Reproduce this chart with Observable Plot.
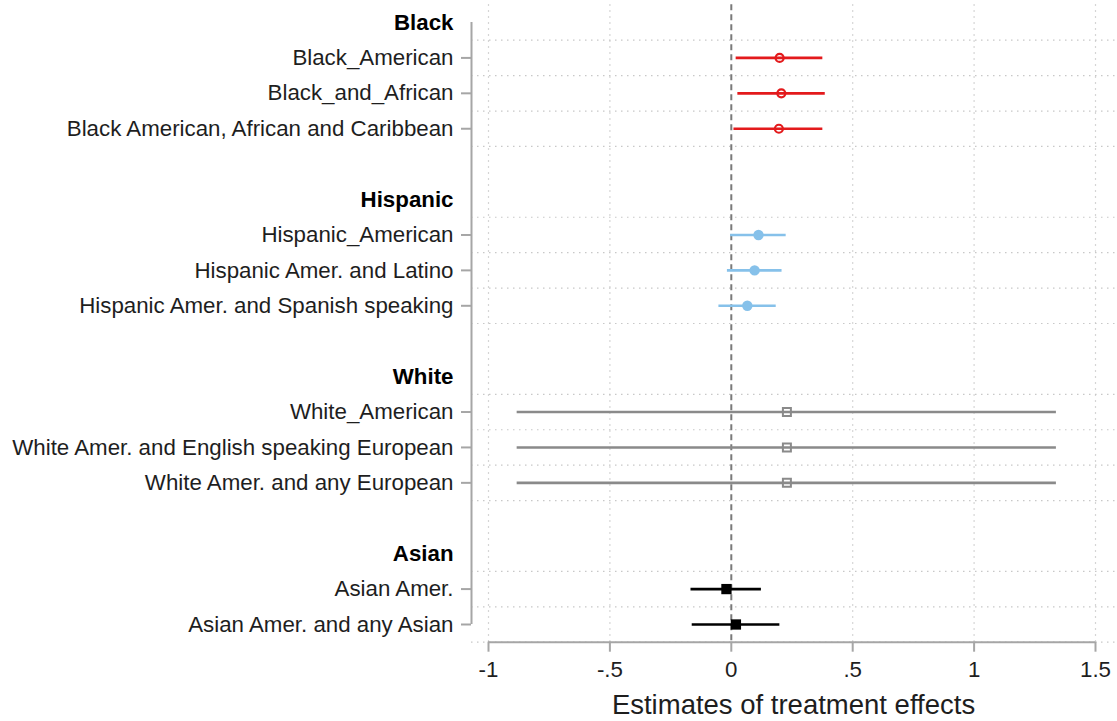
<!DOCTYPE html>
<html>
<head>
<meta charset="utf-8">
<script src="https://cdn.jsdelivr.net/npm/d3@7"></script>
<script src="https://cdn.jsdelivr.net/npm/@observablehq/plot@0.6"></script>
<style>
  html, body { margin: 0; padding: 0; background: #ffffff; }
  #chart svg { display: block; }
</style>
</head>
<body>
<div id="chart"></div>
<script>
// ---- Data ----
const groups = ["Black", "Hispanic", "White", "Asian"];
const labels = [
  "Black_American",
  "Black_and_African",
  "Black American, African and Caribbean",
  "Hispanic_American",
  "Hispanic Amer. and Latino",
  "Hispanic Amer. and Spanish speaking",
  "White_American",
  "White Amer. and English speaking European",
  "White Amer. and any European",
  "Asian Amer.",
  "Asian Amer. and any Asian"
];
const groupOf = ["Black", "Black", "Black", "Hispanic", "Hispanic", "Hispanic", "White", "White", "White", "Asian", "Asian"];
const estimate = [0.199, 0.206, 0.196, 0.112, 0.096, 0.066, 0.229, 0.229, 0.229, -0.020, 0.019];
const lower    = [0.020, 0.027, 0.011, -0.003, -0.016, -0.051, -0.882, -0.882, -0.882, -0.166, -0.161];
const upper    = [0.377, 0.387, 0.377, 0.226, 0.209, 0.185, 1.339, 1.339, 1.339, 0.124, 0.200];
const xTicks = [-1, -0.5, 0, 0.5, 1, 1.5];
const xTickLabels = ["-1", "-.5", "0", ".5", "1", "1.5"];
const xTitle = "Estimates of treatment effects";

// ---- Styles per group ----
const groupColor = {Black: "#e31a1c", Hispanic: "#86c1ea", White: "#8a8a8a", Asian: "#000000"};

// ---- Row layout (header, items, blank between groups) ----
const rowLabel = {};
const headerRows = [];
const itemRows = [];
const boundaries = [];
const rows = [];
let r = 0;
groups.forEach((g, gi) => {
  headerRows.push(r);
  rowLabel[r] = g;
  r++;
  const idx = labels.map((l, i) => i).filter(i => groupOf[i] === g);
  const first = r;
  idx.forEach(i => {
    rowLabel[r] = labels[i];
    itemRows.push(r);
    rows.push({row: r, label: labels[i], group: g, est: estimate[i], lo: lower[i], hi: upper[i]});
    r++;
  });
  for (let b = first; b <= r; b++) boundaries.push(b - 0.5);
  if (gi < groups.length - 1) r++;
});
const lastRow = r - 1;
const byGroup = g => rows.filter(d => d.group === g);

const gridColor = "#c8c8c8";
const axisColor = "#a6a6a6";
const textColor = "#1e1e1e";

const chart = Plot.plot({
  width: 1117,
  height: 721,
  marginLeft: 471,
  marginRight: 2,
  marginTop: 4.3,
  marginBottom: 79.3,
  style: {fontFamily: "'Liberation Sans', Arial, sans-serif", background: "#ffffff", overflow: "visible"},
  x: {domain: [xTicks[0], xTicks[xTicks.length - 1]], range: [488, 1095], axis: null},
  y: {domain: [-0.5, lastRow + 0.5], range: [4.3, 641.7], axis: null},
  marks: [
    // dotted grid
    Plot.ruleY(boundaries, {stroke: gridColor, strokeWidth: 1.2, strokeDasharray: "1.5,4.5"}),
    Plot.ruleX(xTicks.filter(t => t !== 0), {stroke: gridColor, strokeWidth: 1.2, strokeDasharray: "1.5,4.5"}),
    // zero reference line
    Plot.ruleX([0], {stroke: "#7a7a7a", strokeWidth: 2, strokeDasharray: "6,4"}),
    // y axis line
    Plot.ruleX([xTicks[0]], {y1: 0, y2: lastRow, dx: -17, stroke: axisColor, strokeWidth: 2}),
    // x axis line
    Plot.ruleY([lastRow + 0.5], {x1: xTicks[0], x2: xTicks[xTicks.length - 1], stroke: axisColor, strokeWidth: 2}),
    Plot.axisX({ticks: xTicks, tickFormat: (d, i) => xTickLabels[xTicks.indexOf(d)], tickSize: 10, tickPadding: 9,
      stroke: axisColor, strokeWidth: 2, fill: textColor, fontSize: 22.3, label: null}),
    Plot.axisY({ticks: itemRows, tickFormat: d => rowLabel[d], tickSize: 10, tickPadding: 8,
      stroke: axisColor, strokeWidth: 2, fill: textColor, fontSize: 22.3, label: null}),
    Plot.axisY({ticks: headerRows, tickFormat: d => rowLabel[d], tickSize: 0, tickPadding: 18,
      fill: "#000", fontSize: 22.3, fontWeight: "bold", label: null}),
    // confidence intervals
    ...groups.map(g => Plot.ruleY(byGroup(g), {y: "row", x1: "lo", x2: "hi", stroke: groupColor[g], strokeWidth: 2.6})),
    // point estimates
    Plot.dot(byGroup("Black"), {x: "est", y: "row", r: 4, stroke: groupColor.Black, strokeWidth: 2.2, fill: "none"}),
    Plot.dot(byGroup("Hispanic"), {x: "est", y: "row", r: 5.2, fill: groupColor.Hispanic, stroke: "none"}),
    Plot.dot(byGroup("White"), {x: "est", y: "row", r: 4.5, symbol: "square", stroke: groupColor.White, strokeWidth: 2, fill: "none"}),
    Plot.dot(byGroup("Asian"), {x: "est", y: "row", r: 5.8, symbol: "square", fill: groupColor.Asian, stroke: "none"}),
    // x title
    Plot.text([xTitle], {frameAnchor: "bottom", dy: 63, lineAnchor: "middle", fontSize: 27.5, fill: textColor})
  ]
});
document.getElementById("chart").appendChild(chart);
</script>
</body>
</html>
